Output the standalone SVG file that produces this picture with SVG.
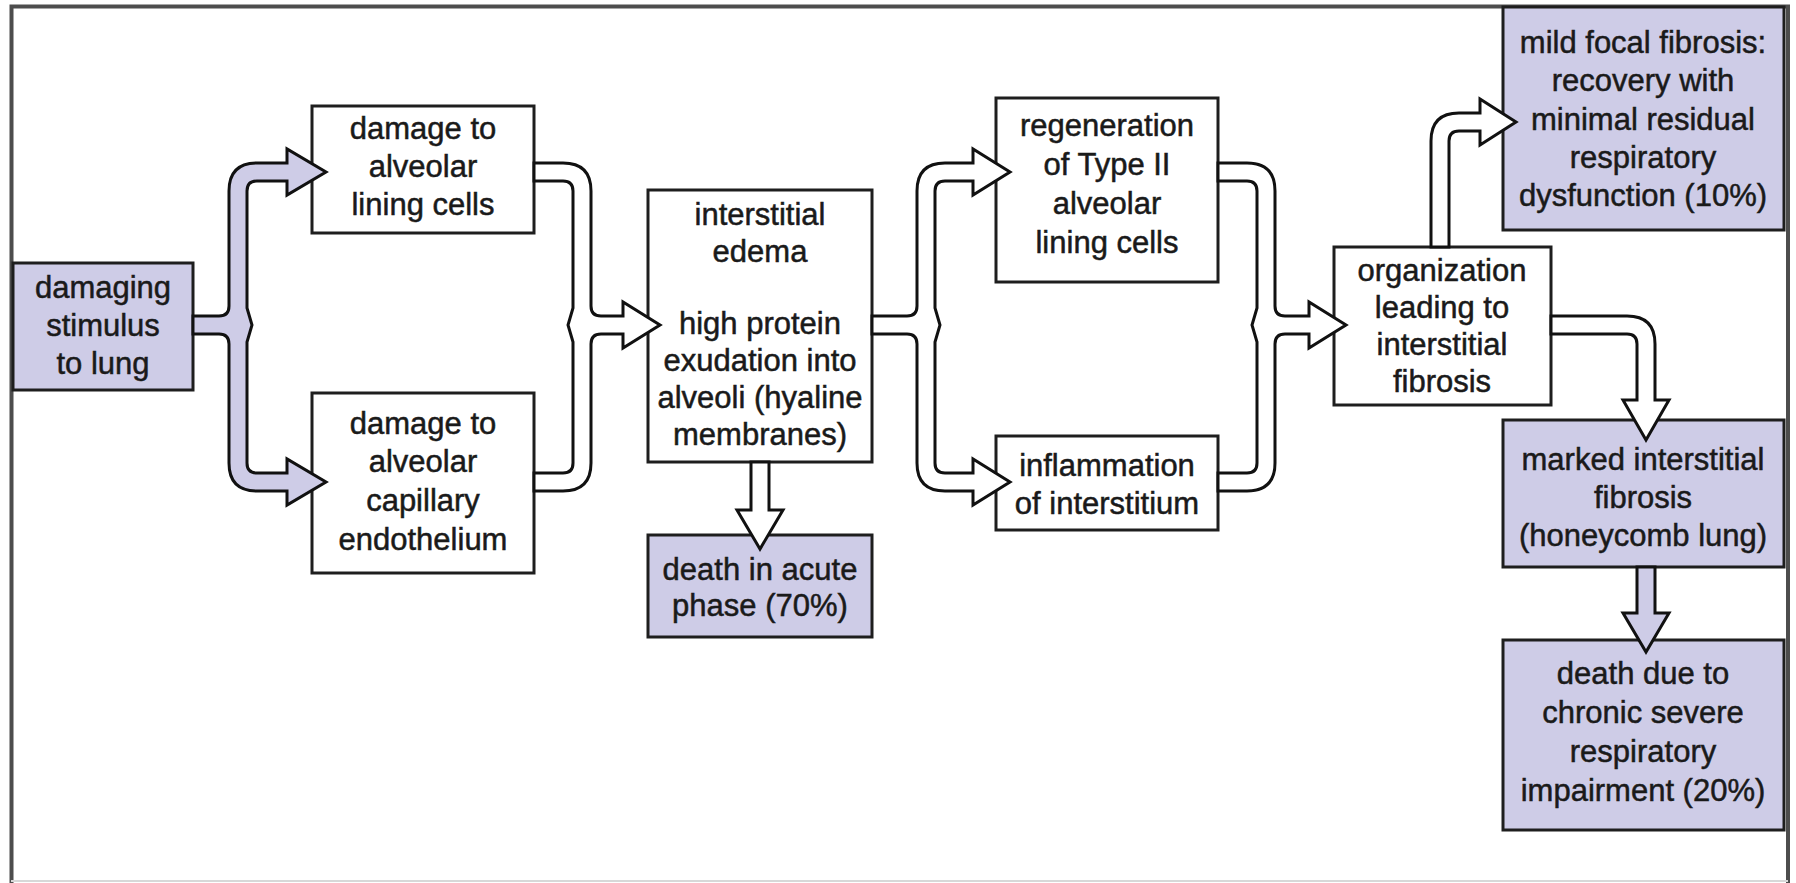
<svg xmlns="http://www.w3.org/2000/svg" width="1796" height="883" viewBox="0 0 1796 883">
<style>
.box{stroke:#1e1e1e;stroke-width:3}
.w{fill:#ffffff}
.lav{fill:#cecce7}
.t{font-family:"Liberation Sans",Arial,Helvetica,sans-serif;font-size:31px;fill:#1a1a1a;stroke:#1a1a1a;stroke-width:0.5;text-anchor:middle}
.tube{stroke:#111111;stroke-width:3;stroke-linejoin:miter}
</style>
<rect width="1796" height="883" fill="#ffffff"/>
<g id="frame">
<path d="M11.5,883 V6.5 H1788 V883" fill="none" stroke="#4d4d4d" stroke-width="4"/>
<line x1="11" y1="881" x2="1788" y2="881" stroke="#d8d8d8" stroke-width="2"/>
</g>
<g id="stimulus">
<rect class="box lav" x="13" y="263" width="180" height="127"/>
<text class="t"><tspan x="103" y="298">damaging</tspan><tspan x="103" y="336">stimulus</tspan><tspan x="103" y="374">to lung</tspan></text>
</g>
<g id="lining">
<rect class="box w" x="312" y="106" width="222" height="127"/>
<text class="t"><tspan x="423" y="139">damage to</tspan><tspan x="423" y="177">alveolar</tspan><tspan x="423" y="215">lining cells</tspan></text>
</g>
<g id="capillary">
<rect class="box w" x="312" y="393" width="222" height="180"/>
<text class="t"><tspan x="423" y="434">damage to</tspan><tspan x="423" y="472">alveolar</tspan><tspan x="423" y="511">capillary</tspan><tspan x="423" y="550">endothelium</tspan></text>
</g>
<g id="edema">
<rect class="box w" x="648" y="190" width="224" height="272"/>
<text class="t"><tspan x="760" y="225">interstitial</tspan><tspan x="760" y="262">edema</tspan><tspan x="760" y="334">high protein</tspan><tspan x="760" y="371">exudation into</tspan><tspan x="760" y="408">alveoli (hyaline</tspan><tspan x="760" y="445">membranes)</tspan></text>
</g>
<g id="acute-death">
<rect class="box lav" x="648" y="535" width="224" height="102"/>
<text class="t"><tspan x="760" y="580">death in acute</tspan><tspan x="760" y="616">phase (70%)</tspan></text>
</g>
<g id="regeneration">
<rect class="box w" x="996" y="98" width="222" height="184"/>
<text class="t"><tspan x="1107" y="136">regeneration</tspan><tspan x="1107" y="175">of Type II</tspan><tspan x="1107" y="214">alveolar</tspan><tspan x="1107" y="253">lining cells</tspan></text>
</g>
<g id="inflammation">
<rect class="box w" x="996" y="436" width="222" height="94"/>
<text class="t"><tspan x="1107" y="476">inflammation</tspan><tspan x="1107" y="514">of interstitium</tspan></text>
</g>
<g id="organization">
<rect class="box w" x="1334" y="247" width="217" height="158"/>
<text class="t"><tspan x="1442" y="281">organization</tspan><tspan x="1442" y="318">leading to</tspan><tspan x="1442" y="355">interstitial</tspan><tspan x="1442" y="392">fibrosis</tspan></text>
</g>
<g id="mild">
<rect class="box lav" x="1503" y="7" width="281" height="223"/>
<text class="t"><tspan x="1643" y="53">mild focal fibrosis:</tspan><tspan x="1643" y="91">recovery with</tspan><tspan x="1643" y="130">minimal residual</tspan><tspan x="1643" y="168">respiratory</tspan><tspan x="1643" y="206">dysfunction (10%)</tspan></text>
</g>
<g id="marked">
<rect class="box lav" x="1503" y="420" width="281" height="147"/>
<text class="t"><tspan x="1643" y="470">marked interstitial</tspan><tspan x="1643" y="508">fibrosis</tspan><tspan x="1643" y="546">(honeycomb lung)</tspan></text>
</g>
<g id="chronic-death">
<rect class="box lav" x="1503" y="640" width="281" height="190"/>
<text class="t"><tspan x="1643" y="684">death due to</tspan><tspan x="1643" y="723">chronic severe</tspan><tspan x="1643" y="762">respiratory</tspan><tspan x="1643" y="801">impairment (20%)</tspan></text>
</g>
<g id="connectors">
<path class="tube lav" d="M193,316 H219 Q229,316 229,306 V191 Q229,163 257,163 H287 V149 L326,172 L287,195 V181 H257 Q247,181 247,191 V308 L252,325 L247,342 V463 Q247,473 257,473 H287 V459 L326,482 L287,505 V491 H257 Q229,491 229,463 V344 Q229,334 219,334 H193 Z"/>
<path class="tube w" d="M534,163 H563 Q591,163 591,191 V306 Q591,316 601,316 H623 V302 L660,325 L623,348 V334 H601 Q591,334 591,344 V463 Q591,491 563,491 H534 V473 H563 Q573,473 573,463 V342 L568,325 L573,308 V191 Q573,181 563,181 H534 Z"/>
<path class="tube w" d="M872,316 H907 Q917,316 917,306 V191 Q917,163 945,163 H973 V149 L1010,172 L973,195 V181 H945 Q935,181 935,191 V308 L940,325 L935,342 V463 Q935,473 945,473 H973 V459 L1010,482 L973,505 V491 H945 Q917,491 917,463 V344 Q917,334 907,334 H872 Z"/>
<path class="tube w" d="M1218,163 H1247 Q1275,163 1275,191 V306 Q1275,316 1285,316 H1309 V302 L1346,325 L1309,348 V334 H1285 Q1275,334 1275,344 V463 Q1275,491 1247,491 H1218 V473 H1247 Q1257,473 1257,463 V342 L1252,325 L1257,308 V191 Q1257,181 1247,181 H1218 Z"/>
<path class="tube w" d="M1431,247 V141 Q1431,113 1459,113 H1480 V99 L1516,122 L1480,145 V131 H1459 Q1449,131 1449,141 V247 Z"/>
<path class="tube w" d="M1551,316 H1627 Q1655,316 1655,344 V400 H1669 L1646,440 L1623,400 H1637 V344 Q1637,334 1627,334 H1551 Z"/>
<path class="tube lav" d="M1637,567 V613 H1623 L1646,652 L1669,613 H1655 V567 Z"/>
<path class="tube w" d="M751,462 V510 H737 L760,549 L783,510 H769 V462 Z"/>
</g>
</svg>
